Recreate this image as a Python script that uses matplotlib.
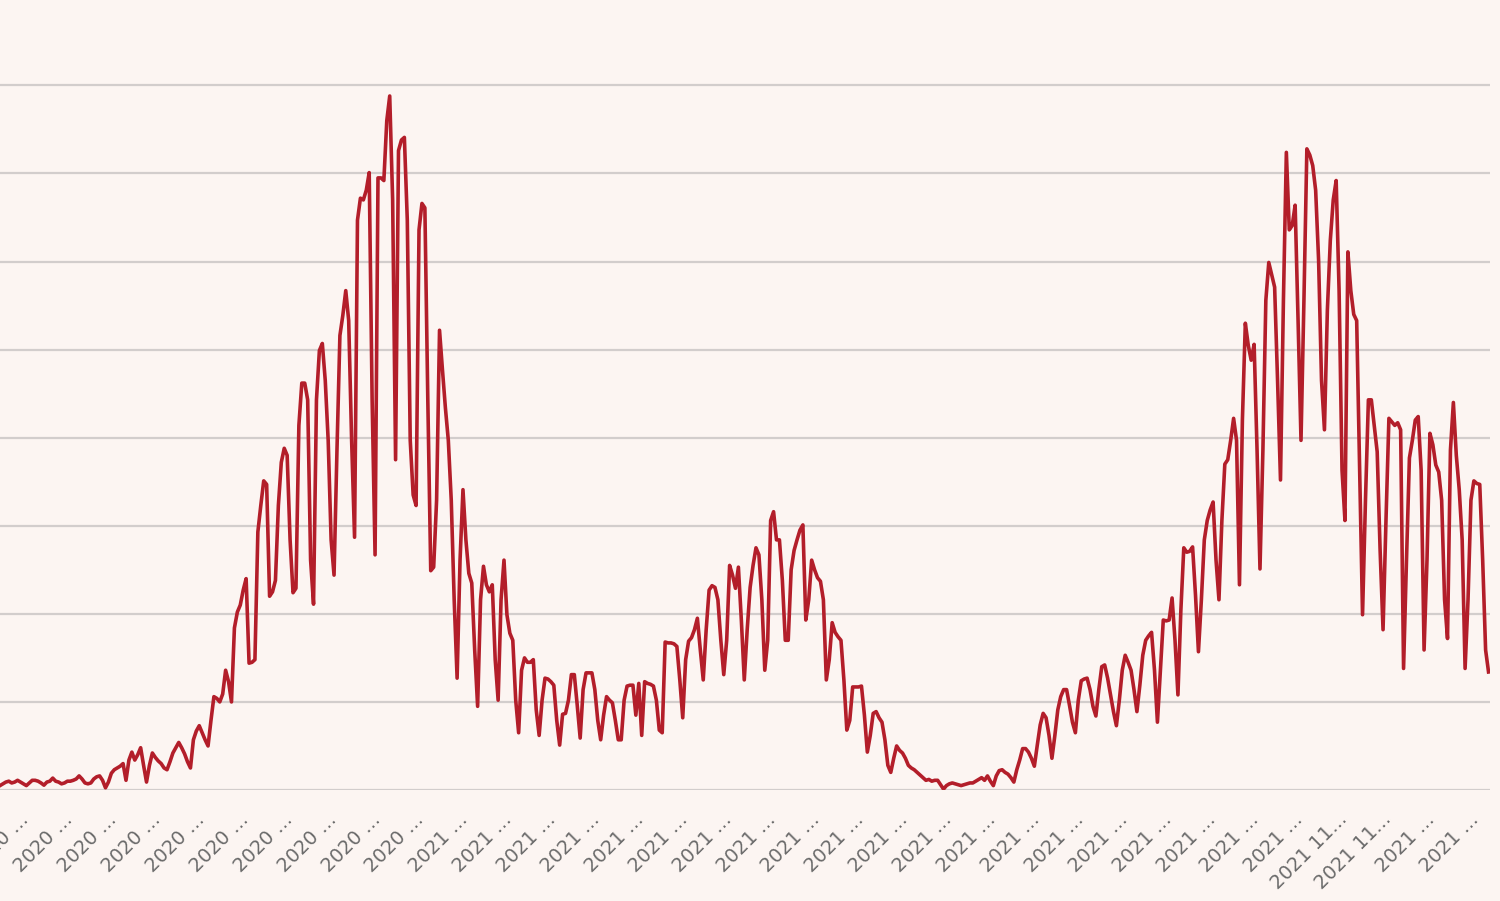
"""
Daily series, Aug 2020 - Dec 2021, drawn as a cropped line chart on a cream page.
Saved to out.png.
"""

import matplotlib
matplotlib.use("Agg")
import numpy as np
import matplotlib.pyplot as plt

BG_COLOR   = "#fcf5f2"
LINE_COLOR = "#b31e2a"
GRID_COLOR = "#d2cdcc"
TICK_COLOR = "#6a6a6a"

# daily values (thousands), one week per row
DAILY = [
    0.5, 0.7, 0.9, 1.0, 0.8, 0.9, 1.1,
    0.9, 0.7, 0.5, 0.8, 1.1, 1.1, 1.0,
    0.8, 0.55, 0.9, 1.0, 1.35, 1.0, 0.9,
    0.7, 0.8, 1.0, 1.0, 1.1, 1.25, 1.6,
    1.25, 0.8, 0.7, 0.8, 1.25, 1.5, 1.6,
    1.1, 0.25, 0.9, 1.9, 2.3, 2.5, 2.7,
    3.0, 1.1, 3.4, 4.3, 3.4, 4.0, 4.8,
    2.8, 0.9, 2.8, 4.2, 3.7, 3.3, 3.0,
    2.5, 2.3, 3.2, 4.2, 4.8, 5.4, 4.8,
    4.1, 3.2, 2.5, 5.7, 6.7, 7.3, 6.5,
    5.7, 5.0, 7.9, 10.6, 10.4, 10.0, 10.9,
    13.6, 12.3, 10.0, 18.4, 20.2, 21.0, 22.7,
    24.0, 14.4, 14.5, 14.8, 29.3, 32.3, 35.1,
    34.7, 22.0, 22.5, 23.8, 32.3, 37.2, 38.8,
    38.0, 28.4, 22.4, 22.9, 41.4, 46.2, 46.2,
    44.3, 26.1, 21.1, 44.3, 49.9, 50.7, 46.5,
    39.7, 28.4, 24.4, 38.6, 51.6, 53.9, 56.7,
    53.3, 39.7, 28.7, 64.7, 67.2, 67.0, 68.1,
    70.1, 44.3, 26.7, 69.5, 69.5, 69.2, 76.0,
    78.8, 67.0, 37.5, 72.6, 73.8, 74.1, 64.7,
    39.7, 33.5, 32.3, 63.6, 66.6, 66.1, 44.3,
    24.9, 25.3, 32.9, 52.2, 47.7, 43.4, 39.7,
    32.9, 21.6, 12.7, 26.1, 34.1, 28.4, 24.6,
    23.5, 15.9, 9.5, 21.6, 25.4, 23.3, 22.5,
    23.3, 14.8, 10.2, 21.6, 26.1, 19.9, 17.8,
    17.0, 10.2, 6.5, 13.6, 15.0, 14.5, 14.5,
    14.8, 9.1, 6.2, 10.2, 12.7, 12.6, 12.3,
    11.9, 7.9, 5.1, 8.6, 8.7, 10.2, 13.1,
    13.1, 9.6, 5.9, 11.4, 13.3, 13.3, 13.3,
    11.4, 7.9, 5.7, 8.5, 10.6, 10.2, 9.9,
    7.9, 5.7, 5.7, 10.2, 11.8, 11.9, 11.9,
    8.5, 12.1, 6.2, 12.3, 12.1, 12.0, 11.8,
    10.2, 6.8, 6.5, 16.8, 16.7, 16.7, 16.6,
    16.3, 12.5, 8.2, 14.8, 16.9, 17.3, 18.2,
    19.5, 15.9, 12.5, 18.2, 22.7, 23.2, 23.0,
    21.6, 17.0, 13.1, 17.0, 25.5, 24.4, 22.9,
    25.3, 19.3, 12.5, 18.2, 23.0, 25.5, 27.5,
    26.7, 21.6, 13.6, 17.0, 30.6, 31.6, 28.4,
    28.4, 23.8, 17.0, 17.0, 25.0, 27.2, 28.4,
    29.5, 30.1, 19.3, 21.6, 26.1, 25.0, 24.1,
    23.7, 21.6, 12.5, 14.8, 19.0, 17.9, 17.4,
    17.0, 12.5, 6.8, 7.9, 11.7, 11.7, 11.7,
    11.8, 8.5, 4.3, 6.2, 8.7, 8.9, 8.2,
    7.7, 5.7, 2.8, 2.0, 3.6, 5.0, 4.5,
    4.2, 3.6, 2.8, 2.5, 2.3, 2.0, 1.7,
    1.4, 1.1, 1.2, 1.0, 1.1, 1.1, 0.6,
    0.1, 0.5, 0.7, 0.8, 0.7, 0.6, 0.5,
    0.6, 0.7, 0.8, 0.8, 1.0, 1.2, 1.4,
    1.1, 1.6, 1.0, 0.5, 1.6, 2.2, 2.3,
    2.0, 1.8, 1.4, 0.9, 2.3, 3.4, 4.7,
    4.7, 4.3, 3.6, 2.7, 5.1, 7.4, 8.7,
    8.2, 6.2, 3.6, 6.2, 9.1, 10.6, 11.4,
    11.4, 9.6, 7.7, 6.5, 10.2, 12.4, 12.6,
    12.7, 11.4, 9.5, 8.4, 11.4, 14.0, 14.2,
    12.7, 10.8, 8.9, 7.3, 10.2, 13.6, 15.3,
    14.5, 13.6, 11.4, 8.9, 11.9, 15.3, 17.0,
    17.5, 17.9, 13.6, 7.7, 13.6, 19.3, 19.2,
    19.3, 21.8, 17.0, 10.8, 20.4, 27.5, 27.0,
    27.1, 27.6, 22.1, 15.7, 21.6, 28.4, 30.6,
    31.8, 32.7, 26.1, 21.6, 30.6, 37.0, 37.5,
    39.7, 42.2, 39.7, 23.3, 42.0, 53.0, 50.5,
    48.8, 50.6, 38.6, 25.1, 38.6, 55.6, 59.9,
    58.5, 57.1, 46.5, 35.2, 55.6, 72.4, 63.6,
    64.1, 66.4, 53.3, 39.7, 55.6, 72.8, 72.1,
    70.9, 68.1, 60.2, 46.5, 40.9, 54.5, 62.4,
    67.0, 69.2, 56.7, 36.3, 30.6, 61.1, 56.7,
    54.0, 53.3, 36.3, 19.9, 32.9, 44.3, 44.3,
    41.4, 38.4, 27.2, 18.2, 30.6, 42.2, 41.8,
    41.4, 41.7, 40.9, 13.8, 26.1, 37.7, 39.7,
    42.0, 42.4, 36.3, 15.9, 26.1, 40.5, 39.2,
    36.9, 36.1, 32.9, 21.6, 17.2, 38.6, 44.0,
    38.0, 34.1, 28.4, 13.8, 21.6, 32.9, 35.1,
    34.8, 34.7, 26.1, 15.9, 13.4,
]

GRID_LEVELS = [0, 10, 20, 30, 40, 50, 60, 70, 80]

# one label every 15 days; the axis text is truncated in the source
TICK_DAYS   = list(range(11, 507, 15))
TICK_LABELS = (["2020 ..."] * 10 + ["2021 ..."] * 20
               + ["2021 11..."] * 2 + ["2021 ..."] * 2)


def main():
    days = np.arange(len(DAILY))

    fig = plt.figure(figsize=(15, 9.01), dpi=100, facecolor=BG_COLOR)
    ax = fig.add_axes([0.0, 0.1232, 1490 / 1500, 0.8768])
    ax.set_facecolor(BG_COLOR)

    ax.plot(days, DAILY, color=LINE_COLOR, linewidth=2.6, zorder=3)

    ax.set_xlim(0, 508.5)
    ax.set_ylim(0, 89.7)

    # horizontal grid only, no y labels (cropped in the original)
    ax.set_yticks(GRID_LEVELS)
    ax.yaxis.grid(True, color=GRID_COLOR, linewidth=1.6)
    ax.set_axisbelow(True)
    ax.tick_params(axis="y", left=False, labelleft=False)

    ax.set_xticks(TICK_DAYS)
    ax.set_xticklabels(TICK_LABELS, rotation=45, ha="right",
                       fontsize=14, color=TICK_COLOR)
    ax.tick_params(axis="x", length=0, pad=14)

    for side in ("top", "right", "bottom", "left"):
        ax.spines[side].set_visible(False)

    fig.savefig("out.png", dpi=100, facecolor=BG_COLOR)


if __name__ == "__main__":
    main()
